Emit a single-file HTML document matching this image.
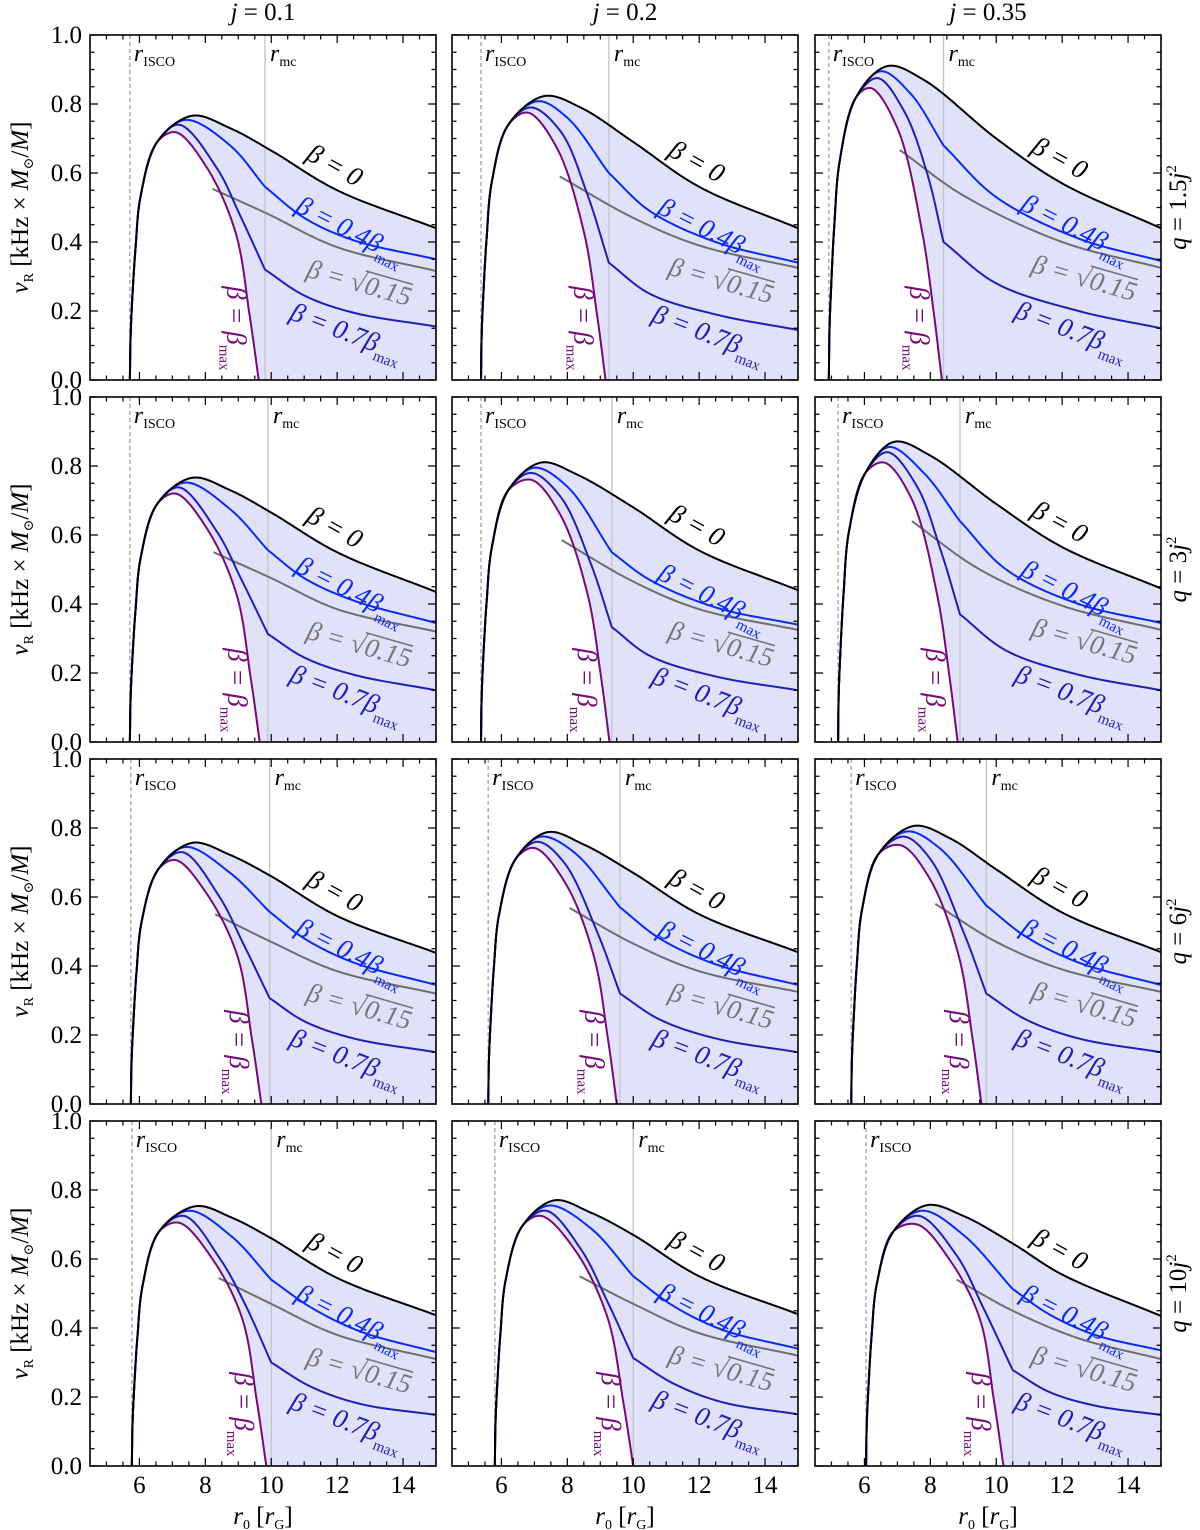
<!DOCTYPE html>
<html>
<head>
<meta charset="utf-8">
<style>
  html, body { margin:0; padding:0; background:#fff; }
  svg { display:block; }
  text { font-family: "Liberation Serif", "DejaVu Serif", serif; }
</style>
</head>
<body>
<svg id="chart" width="1200" height="1530" viewBox="0 0 1200 1530" xmlns="http://www.w3.org/2000/svg"></svg>
<script>
// ---- data (row-major: r1c1, r1c2, r1c3, r2c1, ...) ----
const jLabels = ["0.1", "0.2", "0.35"];
const qLabels = ["1.5", "3", "6", "10"];
const xTicks = [6, 8, 10, 12, 14];
const yTicks = [0.0, 0.2, 0.4, 0.6, 0.8, 1.0];
const riscoVals = [5.71, 5.38, 4.92, 5.71, 5.38, 5.2, 5.74, 5.6, 5.6, 5.77, 5.8, 6.05];
const rmcVals = [9.81, 9.26, 8.4, 9.9, 9.35, 8.9, 9.95, 9.6, 9.7, 10.0, 10.0, 10.5];
const rmcShown = [1,1,1, 1,1,1, 1,1,1, 1,1,0];
// shared rise of all curves just outside r_ISCO (r offsets from r_ISCO)
const riseOffsets = [0.02, 0.07, 0.17, 0.33, 0.83];
const riseVals = [
 [.12,.23,.38,.535,.69], [.13,.245,.41,.575,.74], [.145,.27,.455,.635,.82],
 [.12,.23,.38,.535,.69], [.13,.245,.405,.565,.73], [.14,.26,.435,.61,.78],
 [.12,.225,.38,.53,.68], [.125,.235,.395,.55,.71], [.13,.24,.405,.565,.725],
 [.12,.225,.375,.525,.68], [.125,.23,.385,.54,.695], [.12,.225,.38,.53,.68]
];

const beta0Pts = [
 [[7.6,.766],[8.75,.73],[10,.665],[12,.55],[15,.44]],
 [[7.3,.823],[8.4,.79],[10,.69],[12,.56],[15,.44]],
 [[6.7,.91],[7.8,.87],[10,.70],[12,.57],[15,.44]],
 [[7.6,.766],[8.75,.73],[10,.665],[12,.55],[15,.435]],
 [[7.2,.81],[8.3,.775],[10,.68],[12,.555],[15,.44]],
 [[6.9,.87],[8,.83],[10,.69],[12,.565],[15,.445]],
 [[7.6,.757],[8.75,.722],[10,.66],[12,.545],[15,.438]],
 [[7.4,.788],[8.5,.752],[10,.67],[12,.55],[15,.44]],
 [[7.5,.806],[8.6,.77],[10,.68],[12,.555],[15,.44]],
 [[7.7,.753],[8.8,.72],[10,.66],[12,.545],[15,.437]],
 [[7.6,.77],[8.7,.735],[10,.67],[12,.55],[15,.44]],
 [[7.9,.756],[9,.725],[10.5,.645],[12,.555],[15,.435]]
];
const beta04Pre = [
 [[7.4,.754],[8.75,.68],[9.81,.56]],
 [[7.1,.808],[8,.76],[9.26,.6]],
 [[6.5,.895],[7.4,.83],[8.4,.68]],
 [[7.4,.752],[8.75,.675],[9.9,.556]],
 [[7.0,.795],[8,.74],[9.35,.55]],
 [[6.75,.855],[7.8,.78],[8.9,.64]],
 [[7.4,.745],[8.75,.67],[9.95,.557]],
 [[7.2,.775],[8.2,.73],[9.6,.57]],
 [[7.3,.79],[8.3,.74],[9.7,.575]],
 [[7.5,.74],[8.8,.665],[10,.54]],
 [[7.45,.755],[8.7,.69],[10,.55]],
 [[7.75,.74],[9,.67],[10.5,.513]]
];
const beta04Post = [
 [[9.81,.56],[11,.47],[12.5,.405],[15,.35]],
 [[9.26,.6],[10.5,.49],[12.5,.4],[15,.34]],
 [[8.4,.68],[10,.53],[12.5,.41],[15,.345]],
 [[9.9,.556],[11,.475],[12.5,.41],[15,.345]],
 [[9.35,.55],[10.5,.47],[12.5,.39],[15,.34]],
 [[8.9,.64],[10.3,.5],[12.5,.4],[15,.345]],
 [[9.95,.557],[11,.48],[12.5,.41],[15,.345]],
 [[9.6,.57],[10.8,.48],[12.5,.405],[15,.345]],
 [[9.7,.575],[10.9,.485],[12.5,.41],[15,.345]],
 [[10,.54],[11.2,.46],[12.7,.39],[15,.33]],
 [[10,.55],[11.2,.465],[12.7,.395],[15,.34]],
 [[10.5,.513],[11.6,.44],[13,.38],[15,.335]]
];
const beta07Pre = [
 [[7.2,.74],[8.35,.614],[9.05,.478],[9.81,.32]],
 [[6.9,.79],[7.8,.72],[8.6,.54],[9.26,.34]],
 [[6.4,.875],[7.2,.78],[7.9,.6],[8.4,.4]],
 [[7.2,.738],[8.35,.61],[9.1,.47],[9.9,.313]],
 [[6.9,.78],[7.8,.71],[8.7,.52],[9.35,.333]],
 [[6.7,.84],[7.6,.74],[8.3,.56],[8.9,.37]],
 [[7.3,.73],[8.4,.605],[9.15,.465],[9.95,.307]],
 [[7.1,.76],[7.9,.7],[8.9,.5],[9.6,.32]],
 [[7.2,.775],[8,.71],[9,.5],[9.7,.32]],
 [[7.35,.725],[8.45,.6],[9.2,.47],[10,.30]],
 [[7.35,.74],[8.4,.63],[9.2,.48],[10,.313]],
 [[7.65,.725],[8.8,.61],[9.6,.46],[10.5,.278]]
];
const beta07Post = [
 [[9.81,.32],[11,.245],[12.5,.195],[15,.155]],
 [[9.26,.34],[10.5,.25],[12.5,.19],[15,.145]],
 [[8.4,.4],[10,.28],[12.5,.2],[15,.15]],
 [[9.9,.313],[11,.245],[12.5,.195],[15,.15]],
 [[9.35,.333],[10.5,.25],[12.5,.19],[15,.15]],
 [[8.9,.37],[10.3,.265],[12.5,.195],[15,.15]],
 [[9.95,.307],[11,.24],[12.5,.19],[15,.15]],
 [[9.6,.32],[10.8,.245],[12.5,.19],[15,.15]],
 [[9.7,.32],[10.9,.245],[12.5,.19],[15,.15]],
 [[10,.30],[11.2,.23],[12.7,.18],[15,.148]],
 [[10,.313],[11.2,.24],[12.7,.185],[15,.15]],
 [[10.5,.278],[11.6,.215],[13,.175],[15,.148]]
];
const betaMaxPts = [
 [[7.1,.718],[8.03,.618],[8.91,.43],[9.34,.19],[9.62,0]],
 [[6.8,.775],[7.67,.675],[8.5,.43],[8.9,.19],[9.16,0]],
 [[6.2,.846],[7.0,.73],[7.75,.43],[8.11,.19],[8.35,0]],
 [[7.1,.72],[8.04,.62],[8.94,.43],[9.37,.19],[9.65,0]],
 [[6.9,.76],[7.78,.66],[8.61,.43],[9.02,.19],[9.28,0]],
 [[6.6,.81],[7.43,.705],[8.2,.43],[8.58,.19],[8.83,0]],
 [[7.1,.707],[8.06,.607],[8.97,.43],[9.41,.19],[9.7,0]],
 [[7.0,.742],[7.93,.642],[8.8,.43],[9.23,.19],[9.5,0]],
 [[7.1,.75],[8.0,.65],[8.86,.43],[9.28,.19],[9.55,0]],
 [[7.2,.705],[8.18,.605],[9.11,.43],[9.56,.19],[9.85,0]],
 [[7.2,.725],[8.24,.625],[9.22,.43],[9.69,.19],[10,0]],
 [[7.6,.70],[8.57,.60],[9.49,.43],[9.93,.19],[10.22,0]]
];
const sqrtPts = [
 [[8.22,.554],[9.86,.483],[12,.385],[15,.316]],
 [[7.77,.59],[10,.47],[12,.39],[15,.325]],
 [[7.07,.667],[9,.535],[12,.4],[15,.325]],
 [[8.25,.55],[10,.475],[12,.385],[15,.32]],
 [[7.83,.585],[10,.465],[12,.385],[15,.325]],
 [[7.44,.64],[9.5,.5],[12,.395],[15,.325]],
 [[8.3,.55],[10,.47],[12,.385],[15,.32]],
 [[8.07,.568],[10,.465],[12,.385],[15,.325]],
 [[8.15,.58],[10,.47],[12,.39],[15,.325]],
 [[8.4,.545],[10,.47],[12,.38],[15,.31]],
 [[8.37,.55],[10,.47],[12,.385],[15,.32]],
 [[8.8,.54],[10.5,.45],[12.5,.37],[15,.31]]
];

// ---- layout ----
const NS = "http://www.w3.org/2000/svg";
const svg = document.getElementById("chart");
const panelLefts = [90, 452, 815];
const panelTops = [35, 397, 759, 1121];
const PW = 346, PH = 345;
const XMIN = 4.5, XMAX = 15, YMIN = 0, YMAX = 1;

function mk(tag, attrs, parent) {
  const e = document.createElementNS(NS, tag);
  for (const k in attrs) e.setAttribute(k, attrs[k]);
  (parent || svg).appendChild(e);
  return e;
}

// centripetal Catmull-Rom through pixel points
function crSample(P) {
  const n = P.length;
  if (n < 3) return P.slice();
  const out = [];
  const lerp = (a, b, ta, tb, t) => [a[0] + (b[0]-a[0])*(t-ta)/(tb-ta), a[1] + (b[1]-a[1])*(t-ta)/(tb-ta)];
  for (let i = 0; i < n - 1; i++) {
    const p1 = P[i], p2 = P[i+1];
    const p0 = i > 0 ? P[i-1] : [2*p1[0]-p2[0], 2*p1[1]-p2[1]];
    const p3 = i + 2 < n ? P[i+2] : [2*p2[0]-p1[0], 2*p2[1]-p1[1]];
    const dt = (a, b) => Math.max(Math.pow(Math.hypot(b[0]-a[0], b[1]-a[1]), 0.5), 1e-4);
    const t0 = 0, t1 = t0 + dt(p0, p1), t2 = t1 + dt(p1, p2), t3 = t2 + dt(p2, p3);
    const N = 30;
    for (let s = 0; s < N; s++) {
      const t = t1 + (t2 - t1) * s / N;
      const A1 = lerp(p0, p1, t0, t1, t), A2 = lerp(p1, p2, t1, t2, t), A3 = lerp(p2, p3, t2, t3, t);
      const B1 = lerp(A1, A2, t0, t2, t), B2 = lerp(A2, A3, t1, t3, t);
      out.push(lerp(B1, B2, t1, t2, t));
    }
  }
  out.push(P[n-1]);
  return out;
}
function evalPix(samples, x) {
  for (let i = 0; i < samples.length - 1; i++) {
    const a = samples[i], b = samples[i+1];
    if ((a[0] <= x && b[0] >= x) || (a[0] >= x && b[0] <= x)) {
      const t = (x - a[0]) / ((b[0] - a[0]) || 1);
      return a[1] + t * (b[1] - a[1]);
    }
  }
  return samples[samples.length - 1][1];
}

const defs = mk("defs", {});

for (let c = 0; c < 3; c++) {
  const t = mk("text", {x: panelLefts[c] + PW/2, y: 20, "text-anchor": "middle", "font-size": 25});
  
  
  t.innerHTML = '<tspan font-style="italic">j</tspan> = ' + jLabels[c];
}
for (let r = 0; r < 4; r++) {
  const cy = panelTops[r] + PH/2, cx = 1186;
  const t = mk("text", {x: cx, y: cy, "text-anchor": "middle", "font-size": 25, transform: "rotate(-90 " + cx + " " + cy + ")"});
  
  
  t.innerHTML = '<tspan font-style="italic">q</tspan> = ' + qLabels[r] + '<tspan font-style="italic">j</tspan><tspan font-size="15" dy="-10">2</tspan>';
}

for (let r = 0; r < 4; r++) {
  for (let c = 0; c < 3; c++) {
    const idx = r * 3 + c;
    const L = panelLefts[c], T = panelTops[r];
    const X = v => L + (v - XMIN) / (XMAX - XMIN) * PW;
    const Y = v => T + PH - (v - YMIN) / (YMAX - YMIN) * PH;
    const pix = pts => pts.map(p => [X(p[0]), Y(p[1])]);
    const sample = pts => crSample(pix(pts));
    const toPath = s => s.map((p, i) => (i ? "L" : "M") + p[0].toFixed(2) + "," + p[1].toFixed(2)).join("");
    const R = riscoVals[idx];
    const rise = [[R, 0]].concat(riseOffsets.map((o, k) => [R + o, riseVals[idx][k]]));

    const cp = mk("clipPath", {id: "clip" + idx}, defs);
    mk("rect", {x: L, y: T, width: PW, height: PH}, cp);

    const g = mk("g", {"clip-path": "url(#clip" + idx + ")"});
    
    

    const s0 = sample(rise.concat(beta0Pts[idx]));
    const s4a = sample(rise.concat(beta04Pre[idx])), s4b = sample(beta04Post[idx]);
    const s7a = sample(rise.concat(beta07Pre[idx])), s7b = sample(beta07Post[idx]);
    const sm = sample(rise.concat(betaMaxPts[idx]));
    const sq = sample(sqrtPts[idx]);

    const zero = betaMaxPts[idx][betaMaxPts[idx].length - 1][0];
    let fd = toPath(s0) + "L" + X(XMAX) + "," + Y(0) + "L" + X(zero) + "," + Y(0);
    for (let i = sm.length - 1; i >= 0; i--) fd += "L" + sm[i][0].toFixed(2) + "," + sm[i][1].toFixed(2);
    fd += "Z";
    const fill = mk("path", {d: fd, fill: "#e1e1fa", stroke: "none"}, g);
    
    

    const vi = mk("line", {x1: X(R), x2: X(R), y1: T, y2: T + PH, stroke: "#b0b0b0", "stroke-width": 1.6, "stroke-dasharray": "4,3"}, g);
    
    
    const vm = mk("line", {x1: X(rmcVals[idx]), x2: X(rmcVals[idx]), y1: T, y2: T + PH, stroke: "#c4c4c4", "stroke-width": 1.3}, g);
    
    

    const sqL = mk("path", {d: toPath(sq), fill: "none", stroke: "#6e6e6e", "stroke-width": 2}, g);
    
    
    const mL = mk("path", {d: toPath(sm), fill: "none", stroke: "#750a78", "stroke-width": 2}, g);
    
    
    const c7 = mk("path", {d: toPath(s7a) + toPath(s7b).replace("M", "L"), fill: "none", stroke: "#1f1fb8", "stroke-width": 2}, g);
    
    
    const c4 = mk("path", {d: toPath(s4a) + toPath(s4b).replace("M", "L"), fill: "none", stroke: "#0a2cf0", "stroke-width": 2}, g);
    
    
    const c0 = mk("path", {d: toPath(s0), fill: "none", stroke: "#000", "stroke-width": 2}, g);
    
    

    const li = mk("text", {x: X(R) + 4, y: T + 26, "font-size": 24}, g);
    
    
    li.innerHTML = '<tspan font-style="italic">r</tspan><tspan font-size="14" dy="5">ISCO</tspan>';
    if (rmcShown[idx]) {
      const lm = mk("text", {x: X(rmcVals[idx]) + 5, y: T + 26, "font-size": 24}, g);
      
      
      lm.innerHTML = '<tspan font-style="italic">r</tspan><tspan font-size="14" dy="5">mc</tspan>';
    }

    function label(name, r0, yOff, ang, color, html) {
      const s = name === 'label-beta-0' ? s0 : name === 'label-beta-04max' ? s4b : name === 'label-beta-07max' ? s7b : sq;
      const cx = X(r0), cy = evalPix(s, cx) + yOff;
      const t = mk("text", {x: 0, y: 0, "text-anchor": "middle", "font-size": 27, fill: color, "font-style": "italic",
        transform: "translate(" + cx.toFixed(1) + "," + cy.toFixed(1) + ") rotate(" + ang + ")"}, g);
      
      
      t.innerHTML = html;
      return [cx, cy];
    }
    label('label-beta-0', 11.8, -14, 29, "#000", 'β = 0');
    label('label-beta-04max', 12.3, 0, 27, "#0a2cf0", 'β = 0.4β<tspan font-style="normal" font-size="15" dy="8">max</tspan>');
    const sp = label('label-beta-sqrt015', 12.6, 38, 16, "#777", 'β = √0.15');
    const ol = mk("line", {x1: 3, x2: 52, y1: -22, y2: -22, stroke: "#777", "stroke-width": 1.6,
      transform: "translate(" + sp[0].toFixed(1) + "," + sp[1].toFixed(1) + ") rotate(16)"}, g);
    
    
    label('label-beta-07max', 12.2, 30, 21, "#1f1fb8", 'β = 0.7β<tspan font-style="normal" font-size="15" dy="8">max</tspan>');
    const bx = X(zero - 0.95), by = Y(0.15);
    const bm = mk("text", {x: 0, y: 0, "text-anchor": "middle", "font-size": 27, fill: "#750a78", "font-style": "italic",
      transform: "translate(" + bx.toFixed(1) + "," + by.toFixed(1) + ") rotate(90)"}, g);
    
    
    bm.innerHTML = 'β = β<tspan font-style="normal" font-size="15" dy="8">max</tspan>';

    const fr = mk("rect", {x: L, y: T, width: PW, height: PH, fill: "none", stroke: "#000", "stroke-width": 1.6});
    
    
    let td = "";
    for (let v = 5; v <= 15.001; v += 0.5) {
      const major = Math.abs(v / 2 - Math.round(v / 2)) < 1e-6;
      const len = major ? 8 : 4.5;
      const x = X(v);
      td += "M" + x + "," + (T + PH) + "v" + (-len) + "M" + x + "," + T + "v" + len;
    }
    for (let k = 0; k <= 20; k++) {
      const v = k * 0.05;
      const len = (k % 4 === 0) ? 8 : 4.5;
      const y = Y(v);
      td += "M" + L + "," + y + "h" + len + "M" + (L + PW) + "," + y + "h" + (-len);
    }
    const tk = mk("path", {d: td, stroke: "#000", "stroke-width": 1.2, fill: "none"});
    
    

    if (c === 0) {
      yTicks.forEach(v => {
        const t = mk("text", {x: L - 8, y: Y(v) + 8, "text-anchor": "end", "font-size": 25});
        
        
        t.textContent = v.toFixed(1);
      });
      const cy = T + PH / 2, cx = 28;
      const yt = mk("text", {x: cx, y: cy, "text-anchor": "middle", "font-size": 25, transform: "rotate(-90 " + cx + " " + cy + ")"});
      
      
      yt.innerHTML = '<tspan font-style="italic">ν</tspan><tspan font-size="14" dy="5">R</tspan><tspan dy="-5"> [kHz × </tspan><tspan font-style="italic">M</tspan><tspan font-size="14" dy="5">⊙</tspan><tspan dy="-5">/</tspan><tspan font-style="italic">M</tspan>]';
    }
    if (r === 3) {
      xTicks.forEach(v => {
        const t = mk("text", {x: X(v), y: T + PH + 27, "text-anchor": "middle", "font-size": 25});
        
        
        t.textContent = v;
      });
      const xt = mk("text", {x: L + PW / 2, y: 1524, "text-anchor": "middle", "font-size": 25});
      
      
      xt.innerHTML = '<tspan font-style="italic">r</tspan><tspan font-size="14" dy="5">0</tspan><tspan dy="-5"> [</tspan><tspan font-style="italic">r</tspan><tspan font-size="14" dy="5">G</tspan><tspan dy="-5">]</tspan>';
    }
  }
}
</script>
</body>
</html>
